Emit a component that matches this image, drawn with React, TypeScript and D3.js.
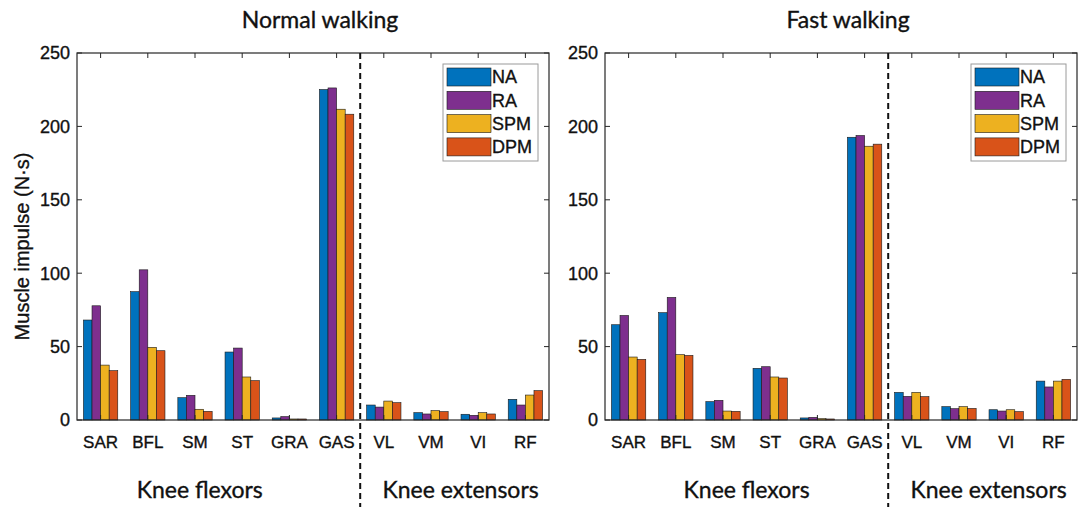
import React from 'react';
import * as d3 from 'd3';

// muscles on the x axis
const muscles = ['SAR', 'BFL', 'SM', 'ST', 'GRA', 'GAS', 'VL', 'VM', 'VI', 'RF'];
const conditions = ['NA', 'RA', 'SPM', 'DPM'];
const colors = ['#0072BD', '#7E2F8E', '#EDB120', '#D95319'];
const yTicks = [0, 50, 100, 150, 200, 250];

// Normal walking, muscle impulse (N·s)
const normalNA = [68.1, 87.4, 15.2, 46.3, 1.4, 225.1, 10.2, 5.0, 3.9, 14.1];
const normalRA = [77.8, 102.3, 16.8, 49.0, 2.3, 226.2, 8.8, 4.1, 3.2, 10.2];
const normalSPM = [37.4, 49.5, 7.3, 29.3, 0.7, 211.7, 12.9, 6.4, 5.0, 17.0];
const normalDPM = [33.6, 47.2, 5.9, 26.8, 0.7, 208.3, 11.8, 5.7, 4.1, 20.0];

// Fast walking
const fastNA = [64.9, 73.1, 12.5, 35.2, 1.4, 192.6, 18.8, 9.1, 7.0, 26.5];
const fastRA = [71.2, 83.5, 13.4, 36.3, 1.8, 193.8, 16.1, 7.7, 6.1, 22.5];
const fastSPM = [42.9, 44.5, 6.1, 29.3, 0.9, 186.5, 18.8, 9.1, 7.0, 26.5];
const fastDPM = [41.3, 44.0, 5.9, 28.6, 0.7, 187.9, 15.9, 7.9, 5.7, 27.7];

const axisColor = '#262626';
const arial = '"Liberation Sans", Arial, sans-serif';
const lato = 'Lato, "Open Sans", sans-serif';
// the scanned figure has slightly heavy text, thicken a little
const heavy = { stroke: '#111', strokeWidth: 0.35 };

interface PanelProps {
  title: string;
  series: number[][];
  left: number;
  showYLabel: boolean;
  flexorPos: number;
}

const Panel: React.FC<PanelProps> = ({ title, series, left, showYLabel, flexorPos }) => {
  const top = 53;
  const bottom = 420;
  const width = 472;
  const right = left + width;

  const x = d3.scaleLinear().domain([0.5, muscles.length + 0.5]).range([left, right]);
  const y = d3.scaleLinear().domain([0, 250]).range([bottom, top]);

  // MATLAB-style grouped bars
  const groupWidth = conditions.length / (conditions.length + 1.5);
  const barWidth = groupWidth / conditions.length;
  const sub = d3.scaleBand<number>()
    .domain(d3.range(conditions.length))
    .range([-groupWidth / 2, groupWidth / 2]);

  const splitX = x(6.5);
  const legendRight = right - 11;
  const legendLeft = legendRight - 95;

  return (
    <g>
      <text x={(left + right) / 2 + 7} y={28} textAnchor="middle" fontFamily={lato} fontSize={23} fill="#111" {...heavy}>
        {title}
      </text>

      {series.map((vals, s) =>
        vals.map((v, i) => (
          <rect
            key={`${s}-${i}`}
            x={x(i + 1 + (sub(s) as number))}
            y={y(v)}
            width={x(barWidth) - x(0)}
            height={y(0) - y(v)}
            fill={colors[s]}
            stroke="#1a1a1a"
            strokeWidth={0.6}
          />
        ))
      )}

      {/* box */}
      <rect x={left} y={top} width={width} height={bottom - top} fill="none" stroke={axisColor} strokeWidth={1.2} />

      {/* x ticks */}
      {muscles.map((m, i) => (
        <g key={m}>
          <line x1={x(i + 1)} x2={x(i + 1)} y1={bottom} y2={bottom - 5} stroke={axisColor} />
          <line x1={x(i + 1)} x2={x(i + 1)} y1={top} y2={top + 5} stroke={axisColor} />
          <text x={x(i + 1)} y={448} textAnchor="middle" fontFamily={arial} fontSize={17} fill="#111" {...heavy}>
            {m}
          </text>
        </g>
      ))}

      {/* y ticks */}
      {yTicks.map(t => (
        <g key={t}>
          <line x1={left} x2={left + 5} y1={y(t)} y2={y(t)} stroke={axisColor} />
          <line x1={right} x2={right - 5} y1={y(t)} y2={y(t)} stroke={axisColor} />
          <text x={left - 7} y={y(t)} dy="0.36em" textAnchor="end" fontFamily={arial} fontSize={18} fill="#111" {...heavy}>
            {t}
          </text>
        </g>
      ))}

      {showYLabel && (
        <text
          transform={`translate(29,${(top + bottom) / 2 + 10}) rotate(-90)`}
          textAnchor="middle"
          fontFamily={arial}
          fontSize={20}
          fill="#111"
          {...heavy}
        >
          Muscle impulse (N·s)
        </text>
      )}

      {/* flexor / extensor split */}
      <line x1={splitX} x2={splitX} y1={top} y2={507} stroke="#111" strokeWidth={2} strokeDasharray="6,4" />

      <text x={x(flexorPos)} y={498} textAnchor="middle" fontFamily={lato} fontSize={23} fill="#111" {...heavy}>
        Knee flexors
      </text>
      <text x={(splitX + right) / 2 + 6} y={498} textAnchor="middle" fontFamily={lato} fontSize={23} fill="#111" {...heavy}>
        Knee extensors
      </text>

      {/* legend */}
      <rect x={legendLeft} y={64} width={legendRight - legendLeft} height={97} fill="#fff" stroke="#9a9a9a" strokeWidth={1} />
      {conditions.map((c, i) => (
        <g key={c}>
          <rect x={legendLeft + 4} y={68 + i * 23.3} width={44} height={18} fill={colors[i]} stroke="#1a1a1a" strokeWidth={0.6} />
          <text x={legendLeft + 49} y={68 + i * 23.3 + 9} dy="0.36em" fontFamily={arial} fontSize={18} fill="#111" {...heavy}>
            {c}
          </text>
        </g>
      ))}
    </g>
  );
};

export default function App() {
  return (
    <div style={{ position: 'absolute', left: 0, top: 0 }}>
      <svg width={1084} height={513} style={{ display: 'block', background: '#fff' }}>
        <Panel
          title="Normal walking"
          series={[normalNA, normalRA, normalSPM, normalDPM]}
          left={77}
          showYLabel
          flexorPos={3.1}
        />
        <Panel
          title="Fast walking"
          series={[fastNA, fastRA, fastSPM, fastDPM]}
          left={605}
          showYLabel={false}
          flexorPos={3.5}
        />
      </svg>
    </div>
  );
}
